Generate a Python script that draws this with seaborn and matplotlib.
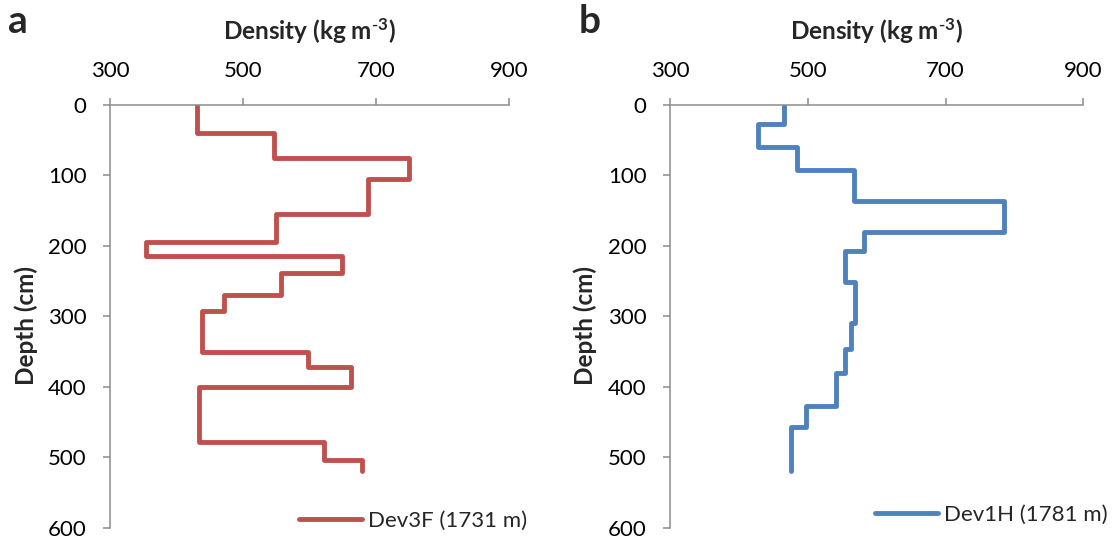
import matplotlib
matplotlib.use("Agg")
import matplotlib.pyplot as plt
import seaborn as sns
import pandas as pd

# Layer boundaries (cm) and bulk density of each layer (kg m-3)
dev3f_bounds = [0, 40, 75, 105, 155, 195, 215, 238, 270, 292, 351, 372, 400, 478, 504, 520]
dev3f_density = [431, 546, 750, 688, 550, 354, 649, 557, 471, 438, 597, 662, 433, 622, 678]

dev1h_bounds = [0, 27, 59, 93, 136, 181, 208, 252, 310, 346, 380, 428, 457, 520]
dev1h_density = [466, 428, 485, 567, 785, 582, 554, 568, 563, 554, 541, 498, 475]

series_labels = ["Dev3F (1731 m)", "Dev1H (1781 m)"]
series_colors = ["#C0504D", "#4F81BD"]
panel_letters = ["a", "b"]
x_ticks = [300, 500, 700, 900]
y_ticks = [0, 100, 200, 300, 400, 500, 600]


def step_profile(bounds, density):
    rows = []
    for i, d in enumerate(density):
        rows.append({"density": d, "depth": bounds[i]})
        rows.append({"density": d, "depth": bounds[i + 1]})
    return pd.DataFrame(rows)


sns.set_theme(style="white")
plt.rcParams["font.family"] = ["Lato", "DejaVu Sans"]
plt.rcParams["mathtext.default"] = "regular"

W, H = 1113, 546
fig = plt.figure(figsize=(W / 100, H / 100), dpi=100)

axes_px = [(110, 509.3), (670, 1083.3)]
top_px, bottom_px = 105, 527.5
legend_px = [(288, 521), (864, 515)]
ylabel_x = [-0.181, -0.176]
letter_px = [(8, 33), (579, 33)]

spine_color = "#8C8C8C"
tick_fs = 16
label_fs = 17.5
legend_fs = 16

profiles = [step_profile(dev3f_bounds, dev3f_density),
            step_profile(dev1h_bounds, dev1h_density)]

for k in range(2):
    x0, x1 = axes_px[k]
    ax = fig.add_axes([x0 / W, 1 - bottom_px / H, (x1 - x0) / W, (bottom_px - top_px) / H])
    sns.lineplot(data=profiles[k], x="density", y="depth", sort=False, estimator=None,
                 color=series_colors[k], linewidth=3.5, label=series_labels[k], ax=ax,
                 solid_joinstyle="round", solid_capstyle="round")

    ax.set_xlim(300, 900)
    ax.set_ylim(600, 0)
    ax.set_xticks(x_ticks)
    ax.set_yticks(y_ticks)
    ax.xaxis.tick_top()
    ax.xaxis.set_label_position("top")
    for side in ["right", "bottom"]:
        ax.spines[side].set_visible(False)
    for side in ["top", "left"]:
        ax.spines[side].set_color(spine_color)
        ax.spines[side].set_linewidth(1.1)
    ax.tick_params(axis="both", which="major", direction="out", length=5, width=1.1,
                   color=spine_color, labelsize=tick_fs, labelcolor="black", pad=12)
    ax.tick_params(axis="x", top=True, bottom=False)
    ax.tick_params(axis="y", left=True)

    ax.set_xlabel(r"Density (kg m$^{\text{-}3}$)", fontsize=label_fs, fontweight="bold")
    ax.set_ylabel("Depth (cm)", fontsize=label_fs, fontweight="bold")
    ax.xaxis.set_label_coords(0.5, 1.154)
    ax.yaxis.set_label_coords(ylabel_x[k], 0.479)

    lx, ly = legend_px[k]
    ax.legend(loc="center left", bbox_to_anchor=(lx / W, 1 - ly / H),
              bbox_transform=fig.transFigure, frameon=False, borderpad=0,
              handlelength=2.85, handletextpad=0.25, fontsize=legend_fs)

    px, py = letter_px[k]
    fig.text(px / W, 1 - py / H, panel_letters[k], fontsize=28, fontweight="bold",
             va="baseline", ha="left")

fig.savefig("out.png", dpi=100)
